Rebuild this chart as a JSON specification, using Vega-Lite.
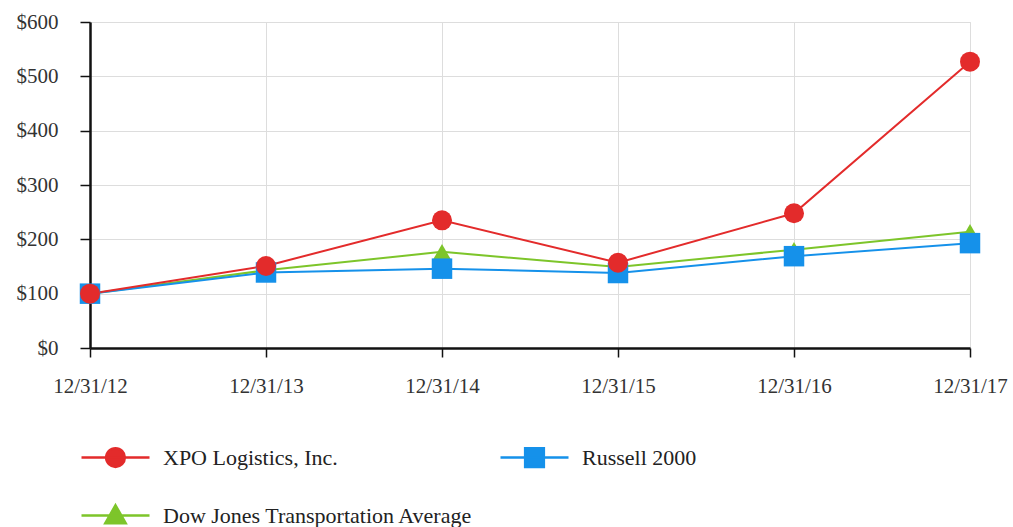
{
  "$schema": "https://vega.github.io/schema/vega-lite/v6.json",
  "width": 880,
  "height": 326,
  "autosize": "none",
  "padding": {"left": 90, "top": 22, "right": 43, "bottom": 179},
  "background": "white",
  "data": {
    "values": [
      {"date": "12/31/12", "order": 0, "series": "Dow Jones Transportation Average", "value": 100},
      {"date": "12/31/13", "order": 1, "series": "Dow Jones Transportation Average", "value": 143},
      {"date": "12/31/14", "order": 2, "series": "Dow Jones Transportation Average", "value": 177},
      {"date": "12/31/15", "order": 3, "series": "Dow Jones Transportation Average", "value": 149},
      {"date": "12/31/16", "order": 4, "series": "Dow Jones Transportation Average", "value": 181},
      {"date": "12/31/17", "order": 5, "series": "Dow Jones Transportation Average", "value": 214},
      {"date": "12/31/12", "order": 0, "series": "Russell 2000", "value": 100},
      {"date": "12/31/13", "order": 1, "series": "Russell 2000", "value": 139},
      {"date": "12/31/14", "order": 2, "series": "Russell 2000", "value": 146},
      {"date": "12/31/15", "order": 3, "series": "Russell 2000", "value": 138},
      {"date": "12/31/16", "order": 4, "series": "Russell 2000", "value": 169},
      {"date": "12/31/17", "order": 5, "series": "Russell 2000", "value": 193},
      {"date": "12/31/12", "order": 0, "series": "XPO Logistics, Inc.", "value": 100},
      {"date": "12/31/13", "order": 1, "series": "XPO Logistics, Inc.", "value": 151},
      {"date": "12/31/14", "order": 2, "series": "XPO Logistics, Inc.", "value": 235},
      {"date": "12/31/15", "order": 3, "series": "XPO Logistics, Inc.", "value": 157},
      {"date": "12/31/16", "order": 4, "series": "XPO Logistics, Inc.", "value": 248},
      {"date": "12/31/17", "order": 5, "series": "XPO Logistics, Inc.", "value": 527}
    ]
  },
  "encoding": {
    "x": {
      "field": "date",
      "type": "ordinal",
      "sort": {"field": "order"},
      "scale": {"type": "point", "padding": 0},
      "axis": {
        "title": null,
        "labelAngle": 0,
        "grid": true,
        "gridColor": "#dddddd",
        "gridWidth": 1,
        "domainColor": "#111111",
        "domainWidth": 2.5,
        "tickColor": "#111111",
        "tickWidth": 1.5,
        "tickSize": 9,
        "labelPadding": 18,
        "labelFont": "Liberation Serif",
        "labelFontSize": 21,
        "labelColor": "#333333"
      }
    },
    "y": {
      "field": "value",
      "type": "quantitative",
      "scale": {"domain": [0, 600], "nice": false},
      "axis": {
        "title": null,
        "values": [0, 100, 200, 300, 400, 500, 600],
        "format": "$.0f",
        "grid": true,
        "gridColor": "#dddddd",
        "gridWidth": 1,
        "domainColor": "#111111",
        "domainWidth": 2.5,
        "tickColor": "#111111",
        "tickWidth": 1.5,
        "tickSize": 10,
        "labelPadding": 22,
        "labelFont": "Liberation Serif",
        "labelFontSize": 21,
        "labelColor": "#333333"
      }
    },
    "color": {
      "field": "series",
      "type": "nominal",
      "scale": {
        "domain": ["XPO Logistics, Inc.", "Russell 2000", "Dow Jones Transportation Average"],
        "range": ["#e32b2b", "#1591ea", "#7dc52a"]
      },
      "legend": {
        "title": null,
        "orient": "none",
        "legendX": 7,
        "legendY": 417,
        "direction": "horizontal",
        "columns": 2,
        "padding": 0,
        "symbolSize": 1156,
        "symbolStrokeWidth": 2.5,
        "labelOffset": 29,
        "rowPadding": 25,
        "columnPadding": 22,
        "labelFont": "Liberation Serif",
        "labelFontSize": 22,
        "labelColor": "#222222",
        "labelLimit": 500,
        "encode": {
          "symbols": {
            "update": {
              "shape": {"signal": "datum.value === 'XPO Logistics, Inc.' ? 'M-2,0H2M0.55,0A0.55,0.55 0 1 1 -0.55,0A0.55,0.55 0 1 1 0.55,0Z' : datum.value === 'Russell 2000' ? 'M-2,0H2M-0.55,-0.55H0.55V0.55H-0.55Z' : 'M-2,0H2M0,-0.6L0.6,0.45H-0.6Z'"},
              "fill": {"signal": "datum.value === 'XPO Logistics, Inc.' ? '#e32b2b' : datum.value === 'Russell 2000' ? '#1591ea' : '#7dc52a'"},
              "stroke": {"signal": "datum.value === 'XPO Logistics, Inc.' ? '#e32b2b' : datum.value === 'Russell 2000' ? '#1591ea' : '#7dc52a'"},
              "strokeWidth": {"value": 2.5},
              "opacity": {"value": 1}
            }
          }
        }
      }
    }
  },
  "layer": [
    {
      "mark": {"type": "line", "strokeWidth": 2}
    },
    {
      "transform": [{"filter": "datum.series === 'Dow Jones Transportation Average'"}],
      "mark": {"type": "point", "filled": true, "opacity": 1, "shape": "triangle-up", "size": 320}
    },
    {
      "transform": [{"filter": "datum.series === 'Russell 2000'"}],
      "mark": {"type": "point", "filled": true, "opacity": 1, "shape": "square", "size": 420}
    },
    {
      "transform": [{"filter": "datum.series === 'XPO Logistics, Inc.'"}],
      "mark": {"type": "point", "filled": true, "opacity": 1, "shape": "circle", "size": 400}
    }
  ]
}
